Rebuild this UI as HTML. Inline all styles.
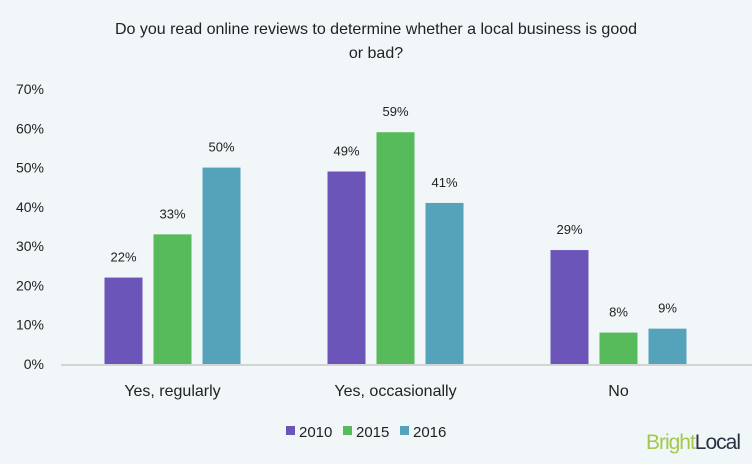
<!DOCTYPE html>
<html><head><meta charset="utf-8"><style>
body{margin:0;background:#f1f6f9;}
svg{display:block;font-family:"Liberation Sans",sans-serif;}
</style></head><body>
<svg width="752" height="464">
<rect width="752" height="464" fill="#f1f6f9"/>
<text x="376" y="34" text-anchor="middle" font-size="16" fill="#222">Do you read online reviews to determine whether a local business is good</text>
<text x="376" y="58" text-anchor="middle" font-size="16" fill="#222">or bad?</text>
<g id="plot"></g>
<g>
<rect x="286" y="426" width="9" height="9" fill="#6b55b9"/>
<text x="299" y="437" font-size="15" fill="#222">2010</text>
<rect x="343" y="426" width="9" height="9" fill="#57bb5c"/>
<text x="356" y="437" font-size="15" fill="#222">2015</text>
<rect x="400" y="426" width="9" height="9" fill="#55a2bb"/>
<text x="413" y="437" font-size="15" fill="#222">2016</text>
</g>
<text x="740" y="449" text-anchor="end" font-size="21" font-family="Liberation Sans Narrow, Liberation Sans, sans-serif" letter-spacing="-1"><tspan fill="#a4c94a">Bright</tspan><tspan fill="#2a3344">Local</tspan></text>
</svg>
<script>
const categories=["Yes, regularly","Yes, occasionally","No"];
const seriesNames=["2010","2015","2016"];
const s2010=[22,49,29];
const s2015=[33,59,8];
const s2016=[50,41,9];
const yTicks=[0,10,20,30,40,50,60,70];
const colors=["#6b55b9","#57bb5c","#55a2bb"];
const series=[s2010,s2015,s2016];
const NS="http://www.w3.org/2000/svg";
const g=document.getElementById('plot');
const x0=61,x1=730,y0=364,yTop=89;
const y=v=>y0-(v/70)*(y0-yTop);
const groupW=(x1-x0)/categories.length;
const cx=i=>x0+groupW*(i+0.5);
function mk(t,a){const e=document.createElementNS(NS,t);for(const k in a)e.setAttribute(k,a[k]);g.appendChild(e);return e;}
yTicks.forEach(t=>{
 const e=mk('text',{x:44,y:y(t)+5,'text-anchor':'end','font-size':14,fill:'#222'});
 
 
 e.textContent=t+'%';
});
const ax=mk('line',{x1:x0,x2:752,y1:y0+1,y2:y0+1,stroke:'#d4d4d4','stroke-width':2});


const bw=38,pitch=49;
categories.forEach((c,i)=>{
 series.forEach((s,j)=>{
  const bx=cx(i)+(j-1)*pitch-bw/2;
  const r=mk('rect',{x:bx,y:y(s[i]),width:bw,height:y0-y(s[i]),fill:colors[j]});
  
  
  const l=mk('text',{x:bx+bw/2,y:y(s[i])-16,'text-anchor':'middle','font-size':13,fill:'#222'});
  
  
  l.textContent=s[i]+'%';
 });
 const t=mk('text',{x:cx(i),y:396,'text-anchor':'middle','font-size':16,fill:'#222'});
 
 
 t.textContent=c;
});
</script>
</body></html>
